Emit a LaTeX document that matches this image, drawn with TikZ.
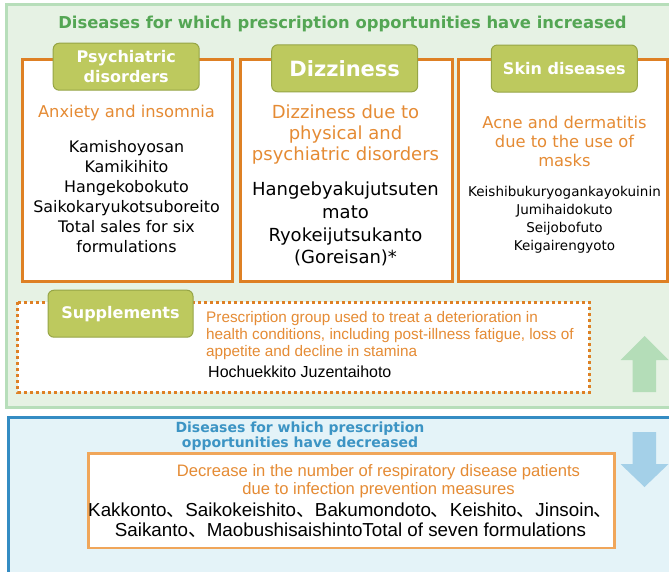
\documentclass[tikz,border=0pt]{standalone}
\usepackage{fontspec}
\setmainfont{DejaVu Sans}
\newfontfamily\narrowfont{Liberation Sans}
\newfontfamily\cjk{Noto Sans CJK JP}
\usetikzlibrary{positioning}

\definecolor{greenfill}{RGB}{230,242,228}
\definecolor{greenedge}{RGB}{183,222,186}
\definecolor{titlegreen}{RGB}{84,166,84}
\definecolor{orangeedge}{RGB}{222,128,36}
\definecolor{orangetext}{RGB}{229,139,52}
\definecolor{softorange}{RGB}{240,166,90}
\definecolor{tagfill}{RGB}{189,201,94}
\definecolor{tagedge}{RGB}{150,165,70}
\definecolor{blueedge}{RGB}{52,140,195}
\definecolor{bluefill}{RGB}{228,243,248}
\definecolor{bluetitle}{RGB}{60,148,196}
\definecolor{uparrow}{RGB}{180,221,184}
\definecolor{downarrow}{RGB}{164,208,232}

\begin{document}
\begin{tikzpicture}[x=1pt,y=-1pt,
  obox/.style={draw=orangeedge,line width=3pt,fill=white},
  tag/.style={draw=tagedge,fill=tagfill,rounded corners=6pt,line width=1pt,text=white,
    font=\bfseries\fontsize{16}{20}\selectfont,align=center,
    minimum width=146pt,minimum height=47pt,inner sep=0pt},
  otext/.style={text=orangetext,align=center,inner sep=0pt},
  btext/.style={text=black,align=center,inner sep=0pt}]
\useasboundingbox (0,0) rectangle (669,571);
\clip (0,0) rectangle (669,571);

\def\ytop{59}
\def\ybot{281}

\filldraw[draw=greenedge,fill=greenfill,line width=3pt] (6.5,4.5) rectangle (690,407);
\filldraw[draw=blueedge,fill=bluefill,line width=3pt] (8,417.5) rectangle (690,600);

\node[font=\bfseries\fontsize{16.4}{18}\selectfont,text=titlegreen] (inctitle) at (342.5,24)
  {Diseases for which prescription opportunities have increased};

\draw[obox] (22,\ytop) rectangle (232,\ybot);
\draw[obox] (240,\ytop) rectangle (452,\ybot);
\draw[obox] (458,\ytop) rectangle (667,\ybot);

\node[tag] (psych) at (126.2,66.7) {Psychiatric\\disorders};
\node[tag,font=\bfseries\fontsize{21}{24}\selectfont] (dizzy) at (344.7,68.3) {Dizziness};
\node[tag] (skin) at (564.3,68.5) {Skin diseases};

\node[otext,font=\fontsize{16.3}{20}\selectfont] (anx) at (126.5,113) {Anxiety and insomnia};
\node[btext,font=\fontsize{15.9}{20}\selectfont] (anxdrug) at (126.5,196.5)
  {Kamishoyosan\\Kamikihito\\Hangekobokuto\\Saikokaryukotsuboreito\\Total sales for six\\formulations};

\node[otext,font=\fontsize{18}{21}\selectfont] (diz) at (345.5,135)
  {Dizziness due to\\physical and\\psychiatric disorders};
\node[btext,font=\fontsize{18}{22.7}\selectfont] (dizdrug) at (345.5,224)
  {Hangebyakujutsuten\\mato\\Ryokeijutsukanto\\(Goreisan)*};

\node[otext,font=\fontsize{16.3}{19}\selectfont] (acne) at (564.5,141)
  {Acne and dermatitis\\due to the use of\\masks};
\node[btext,font=\fontsize{13.5}{18}\selectfont] (acnedrug) at (564.5,220)
  {Keishibukuryogankayokuinin\\Jumihaidokuto\\Seijobofuto\\Keigairengyoto};

\draw[draw=orangeedge,line width=3pt,dash pattern=on 3pt off 3pt,fill=white] (17.5,302) rectangle (589,392);
\node[tag,minimum width=145pt] (supp) at (120.5,313.7) {Supplements};
\node[otext,align=left,anchor=west,font=\narrowfont\fontsize{15.3}{17}\selectfont] (suppnote) at (206,336)
  {Prescription group used to treat a deterioration in\\health conditions, including post-illness fatigue, loss of\\appetite and decline in stamina};
\node[btext,anchor=west,font=\narrowfont\fontsize{16}{18}\selectfont] (suppdrug) at (208,372) {Hochuekkito Juzentaihoto};

\fill[uparrow] (644.5,336) -- (668.5,360) -- (656,360) -- (656,392) -- (632.5,392) -- (632.5,360) -- (620.5,360) -- cycle;
\fill[downarrow] (632.5,432) -- (656,432) -- (656,464) -- (668.5,464) -- (644.5,487) -- (620.5,464) -- (632.5,464) -- cycle;

\node[font=\bfseries\fontsize{14}{15}\selectfont,text=bluetitle,align=center] (dectitle) at (300,436)
  {Diseases for which prescription\\opportunities have decreased};
\draw[draw=softorange,line width=2.5pt,fill=white] (88.5,453.5) rectangle (614.5,548);
\node[otext,font=\narrowfont\fontsize{16.6}{18}\selectfont] (decnote) at (378.5,481)
  {Decrease in the number of respiratory disease patients\\due to infection prevention measures};
\node[btext,font=\narrowfont\fontsize{18.8}{20.5}\selectfont] (decdrug) at (350.5,520)
  {Kakkonto{\cjk 、}Saikokeishito{\cjk 、}Bakumondoto{\cjk 、}Keishito{\cjk 、}Jinsoin{\cjk 、}\\Saikanto{\cjk 、}MaobushisaishintoTotal of seven formulations};
\end{tikzpicture}
\end{document}
